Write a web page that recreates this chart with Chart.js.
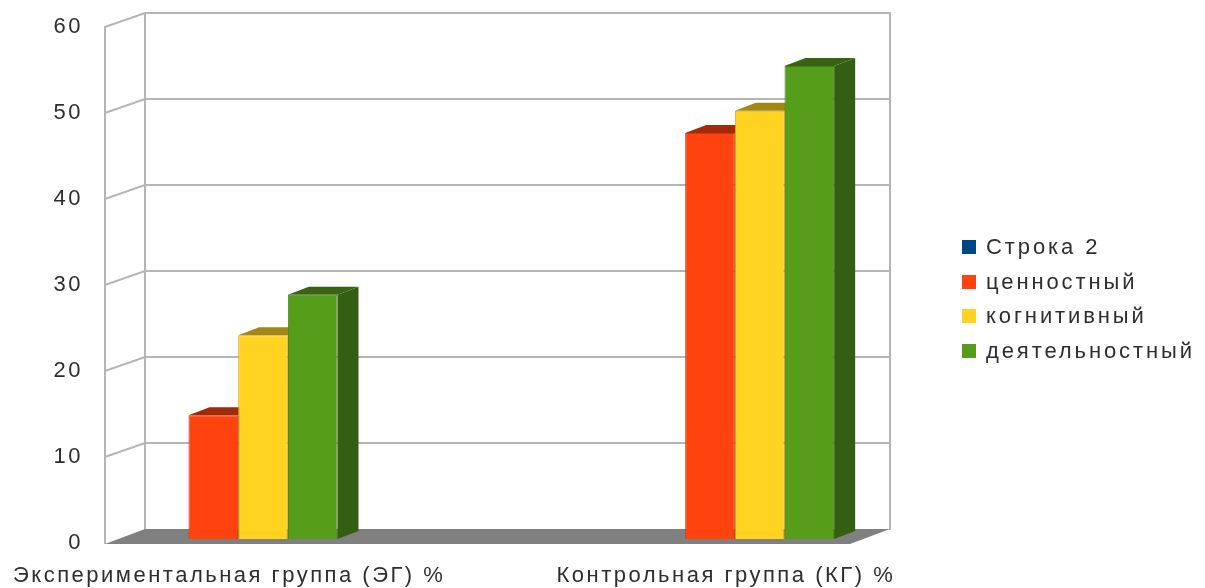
<!DOCTYPE html>
<html><head><meta charset="utf-8">
<script src="https://cdn.jsdelivr.net/npm/chart.js@4"></script>
<style>
html,body{margin:0;padding:0;background:#fff;width:1205px;height:588px;overflow:hidden}
#wrap{position:relative;width:1205px;height:588px}
canvas{position:absolute;left:0;top:0}
#legend{position:absolute;left:962px;top:230px;font-family:"Liberation Sans",Arial,sans-serif;font-size:22px;color:#2e2e2e;letter-spacing:2.9px}
.item{height:34.5px;display:flex;align-items:center;white-space:nowrap}
.sw{width:14px;height:14px;margin-right:10px;flex:none}
</style></head><body>
<div id="wrap"><canvas id="c" width="1205" height="588"></canvas><div id="legend"></div></div>
<script>
// ---- data ----
const categories = ["Экспериментальная группа (ЭГ) %", "", "Контрольная группа (КГ) %"];
const seriesNames = ["Строка 2", "ценностный", "когнитивный", "деятельностный"];
const stroka2 = [null, null, null];
const cennostny = [14.4, null, 47.2];
const kognitivny = [23.7, null, 49.8];
const deyatelnostny = [28.4, null, 55.0];
const yTicks = [0, 10, 20, 30, 40, 50, 60];

// ---- styles ----
const seriesColors = ["#004586", "#ff420e", "#ffd320", "#579d1c"];
const FONT = '"Liberation Sans", Arial, sans-serif';
const SPACING = '2.5px';
const WALL = {dx: 40, dy: 14};            // depth of the 3D box
const BAR = {ox: 9, oy: 4, dx: 21, dy: 8}; // bar front offset and bar depth

function shade(hex, f) {
  const n = parseInt(hex.slice(1), 16);
  const r = Math.round(((n >> 16) & 255) * f), g = Math.round(((n >> 8) & 255) * f), b = Math.round((n & 255) * f);
  return `rgb(${r},${g},${b})`;
}

const seriesData = [stroka2, cennostny, kognitivny, deyatelnostny];
const datasets = seriesNames.map((name, i) => ({
  label: name,
  data: seriesData[i],
  backgroundColor: seriesColors[i],
  borderColor: shade(seriesColors[i], 0.82),
  borderWidth: 1,
  categoryPercentage: 0.8,
  barPercentage: 1.0
}));

const spacingPlugin = {
  id: 'spacing',
  beforeUpdate(chart) { chart.ctx.letterSpacing = SPACING; },
  beforeLayout(chart) { chart.ctx.letterSpacing = SPACING; },
  beforeDraw(chart) { chart.ctx.letterSpacing = SPACING; }
};

const threeD = {
  id: 'threeD',
  beforeDatasetsDraw(chart) {
    const {ctx, chartArea: a, scales: {y}} = chart;
    ctx.save();
    const y0 = y.getPixelForValue(0);
    const yTop = y.getPixelForValue(yTicks[yTicks.length - 1]);
    ctx.strokeStyle = '#b5b5b5';
    ctx.lineWidth = 2;
    ctx.lineCap = 'square';
    yTicks.forEach(v => {
      if (v === 0) return;
      const yy = y.getPixelForValue(v);
      ctx.beginPath();
      ctx.moveTo(a.left, yy);
      ctx.lineTo(a.left + WALL.dx, yy - WALL.dy);
      ctx.lineTo(a.right + WALL.dx, yy - WALL.dy);
      ctx.stroke();
    });
    ctx.beginPath();
    ctx.moveTo(a.left, yTop); ctx.lineTo(a.left, y0);
    ctx.moveTo(a.left + WALL.dx, yTop - WALL.dy); ctx.lineTo(a.left + WALL.dx, y0 - WALL.dy);
    ctx.moveTo(a.right + WALL.dx, yTop - WALL.dy); ctx.lineTo(a.right + WALL.dx, y0 - WALL.dy);
    ctx.stroke();
    ctx.fillStyle = '#808080';
    ctx.beginPath();
    ctx.moveTo(a.left, y0 + 1);
    ctx.lineTo(a.right, y0 + 1);
    ctx.lineTo(a.right + WALL.dx, y0 - WALL.dy);
    ctx.lineTo(a.left + WALL.dx, y0 - WALL.dy);
    ctx.closePath();
    ctx.fill();
    ctx.restore();

    ctx.save();
    ctx.translate(BAR.ox, -BAR.oy);
    chart.data.datasets.forEach((ds, di) => {
      const meta = chart.getDatasetMeta(di);
      meta.data.forEach((el, i) => {
        if (ds.data[i] === null || ds.data[i] === undefined) return;
        const x0 = el.x - el.width / 2, x1 = el.x + el.width / 2;
        const top = el.y, base = el.base;
        ctx.fillStyle = shade(seriesColors[di], 0.6);
        ctx.beginPath();
        ctx.moveTo(x1, top); ctx.lineTo(x1 + BAR.dx, top - BAR.dy);
        ctx.lineTo(x1 + BAR.dx, base - BAR.dy); ctx.lineTo(x1, base);
        ctx.closePath(); ctx.fill();
        ctx.fillStyle = shade(seriesColors[di], 0.64);
        ctx.beginPath();
        ctx.moveTo(x0, top); ctx.lineTo(x0 + BAR.dx, top - BAR.dy);
        ctx.lineTo(x1 + BAR.dx, top - BAR.dy); ctx.lineTo(x1, top);
        ctx.closePath(); ctx.fill();
      });
    });
    ctx.restore();
    ctx.save();
    ctx.translate(BAR.ox, -BAR.oy);
  },
  afterDatasetsDraw(chart) {
    chart.ctx.restore();
  }
};

new Chart(document.getElementById('c'), {
  type: 'bar',
  data: {labels: categories, datasets},
  options: {
    responsive: false,
    animation: false,
    devicePixelRatio: 1,
    layout: {padding: {left: 0, top: 27, right: 355, bottom: 0}},
    plugins: {legend: {display: false}, tooltip: {enabled: false}},
    scales: {
      x: {
        offset: true,
        grid: {display: false, drawTicks: false},
        border: {display: false},
        ticks: {color: '#2e2e2e', font: {family: FONT, size: 22}, padding: 20, maxRotation: 0, autoSkip: false},
        afterFit(s) { s.height = 45; s.paddingLeft = 0; s.paddingRight = 0; }
      },
      y: {
        min: 0, max: 60,
        grid: {display: false, drawTicks: false},
        border: {display: false},
        ticks: {stepSize: 10, color: '#2e2e2e', font: {family: FONT, size: 22}, padding: 22},
        afterFit(s) { s.width = 105; s.paddingTop = 0; s.paddingBottom = 0; }
      }
    }
  },
  plugins: [spacingPlugin, threeD]
});

const lg = document.getElementById('legend');
seriesNames.forEach((n, i) => {
  const d = document.createElement('div');
  d.className = 'item';
  const sw = document.createElement('span');
  sw.className = 'sw';
  sw.style.background = seriesColors[i];
  const t = document.createElement('span');
  t.textContent = n;
  d.appendChild(sw); d.appendChild(t);
  lg.appendChild(d);
});
</script>
</body></html>
